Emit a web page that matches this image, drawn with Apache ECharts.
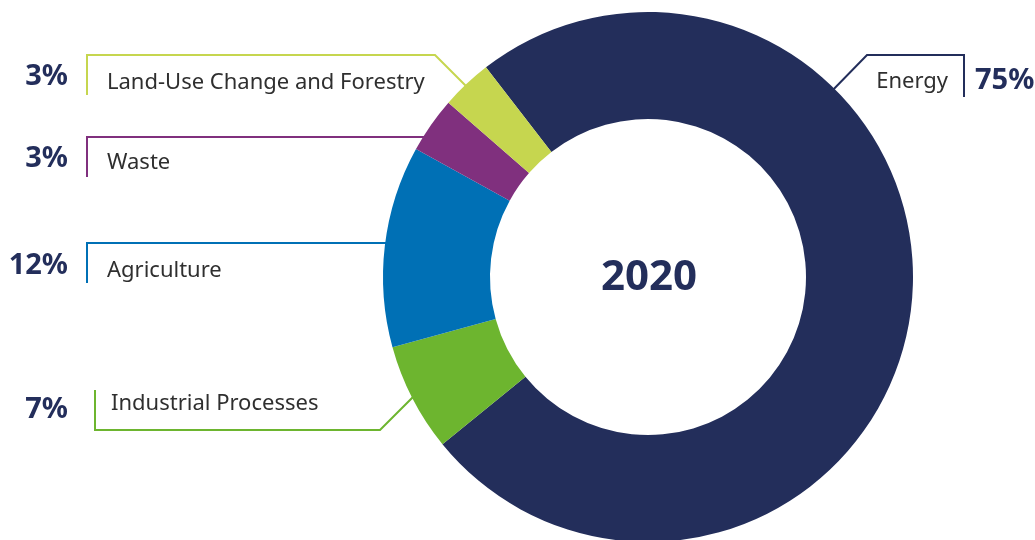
<!DOCTYPE html>
<html>
<head>
<meta charset="utf-8">
<script src="https://cdn.jsdelivr.net/npm/echarts@6/dist/echarts.min.js"></script>
<style>
html,body{margin:0;padding:0;background:#fff;}
#c{width:1035px;height:540px;}
</style>
</head>
<body>
<div id="c"></div>
<script>
// ---- data ----
const categories = ['Energy', 'Industrial Processes', 'Agriculture', 'Waste', 'Land-Use Change and Forestry'];
const values = [74.6, 6.6, 12.3, 3.4, 3.1];
const pctLabels = ['75%', '7%', '12%', '3%', '3%'];
const colors = ['#232e5b', '#6db52f', '#0070b5', '#80307e', '#c6d64f'];
const centerLabel = '2020';

// ---- layout (positions only) ----
const layout = [
  { line: [[964,97],[964,55],[867,55],[826,97]], name: [948,82,'right'], pct: [975,81,'left'] },
  { line: [[95,390],[95,430],[380,430],[420,390]], name: [111,404,'left'], pct: [68,410,'right'] },
  { line: [[87,283],[87,243],[400,243]], name: [107,271,'left'], pct: [68,266,'right'] },
  { line: [[87,177],[87,137],[435,137]], name: [107,163,'left'], pct: [68,159,'right'] },
  { line: [[87,95],[87,55],[435,55],[475,95]], name: [107,83,'left'], pct: [68,77,'right'] }
];

const graphics = [];
categories.forEach((c, i) => {
  const L = layout[i];
  graphics.push({ type: 'polyline', z: 1, shape: { points: L.line }, style: { stroke: colors[i], lineWidth: 2, fill: null } });
  graphics.push({ type: 'text', z: 10, x: L.name[0], y: L.name[1],
    style: { text: c, fill: '#2f2f2f', font: '22px "Noto Sans"', textAlign: L.name[2], textVerticalAlign: 'middle' } });
  graphics.push({ type: 'text', z: 10, x: L.pct[0], y: L.pct[1],
    style: { text: pctLabels[i], fill: '#232e5b', font: 'bold 29px "Noto Sans"', textAlign: L.pct[2], textVerticalAlign: 'middle' } });
});
graphics.push({ type: 'text', z: 10, x: 649, y: 278,
  style: { text: centerLabel, fill: '#232e5b', font: 'bold 42px "Noto Sans"', textAlign: 'center', textVerticalAlign: 'middle' } });

const chart = echarts.init(document.getElementById('c'), null, { renderer: 'canvas' });
chart.setOption({
  animation: false,
  backgroundColor: '#fff',
  graphic: graphics,
  series: [{
    type: 'pie',
    z: 5,
    center: [648, 277],
    radius: [158, 265],
    startAngle: 127.7,
    clockwise: true,
    label: { show: false },
    labelLine: { show: false },
    emphasis: { disabled: true },
    itemStyle: { borderWidth: 0 },
    data: categories.map((c, i) => ({ name: c, value: values[i], itemStyle: { color: colors[i] } }))
  }]
});
</script>
</body>
</html>
